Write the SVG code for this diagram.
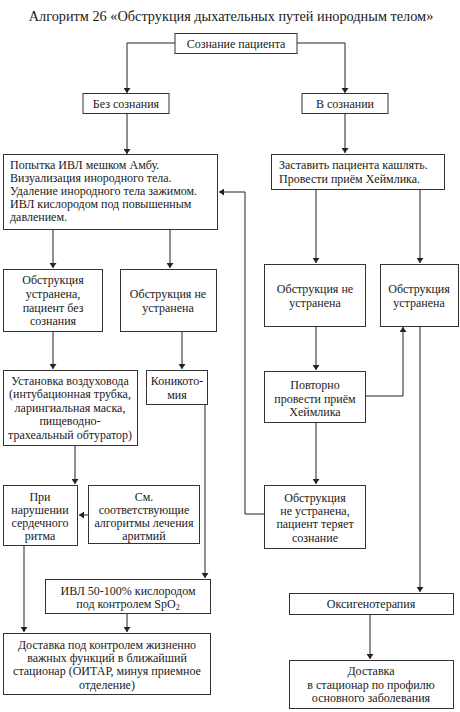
<svg xmlns="http://www.w3.org/2000/svg" width="460" height="712" viewBox="0 0 460 712">
<defs>
<marker id="ah" viewBox="0 0 10 10" refX="10" refY="5" markerWidth="5" markerHeight="7" markerUnits="userSpaceOnUse" orient="auto" preserveAspectRatio="none">
<path d="M0,0 L10,5 L0,10 Z" fill="#222"/>
</marker>
<style>
.b{fill:#fff;stroke:#333;stroke-width:1}
.c{text-anchor:middle}
.ln{fill:none;stroke:#222;stroke-width:1;marker-end:url(#ah)}
</style>
</defs>
<rect width="460" height="712" fill="#fff"/>
<g font-family="Liberation Serif, Times New Roman, serif" font-size="12" fill="#1a1a1a">
<text x="231" y="21" font-size="14.3" text-anchor="middle">Алгоритм 26 «Обструкция дыхательных путей инородным телом»</text>

<g id="connectors">
<path class="ln" d="M175,43 H127 V93"/>
<path class="ln" d="M297,43 H345 V93"/>
<path class="ln" d="M127,113 V154"/>
<path class="ln" d="M345,113 V153"/>
<path class="ln" d="M53,229 V268"/>
<path class="ln" d="M170,229 V268"/>
<path class="ln" d="M316,189 V263"/>
<path class="ln" d="M420,189 V263"/>
<path class="ln" d="M53,331 V369"/>
<path class="ln" d="M182,331 V369"/>
<path class="ln" d="M316,326 V370"/>
<path class="ln" d="M366,396 H403 V327"/>
<path class="ln" d="M316,422 V484"/>
<path class="ln" d="M264,514 H245 V192 H219"/>
<path class="ln" d="M75,445 V484"/>
<path class="ln" d="M88,515 H79"/>
<path class="ln" d="M205,404 V578"/>
<path class="ln" d="M24,545 V632"/>
<path class="ln" d="M127,613 V632"/>
<path class="ln" d="M420,326 V592"/>
<path class="ln" d="M370,614 V659"/>
</g>

<g id="n_consciousness">
<rect class="b" x="175" y="33.5" width="122" height="20"/>
<text class="c" x="236" y="47.5">Сознание пациента</text>
</g>
<g id="n_unconscious">
<rect class="b" x="83" y="93.5" width="86" height="20"/>
<text class="c" x="126" y="108">Без сознания</text>
</g>
<g id="n_conscious">
<rect class="b" x="302" y="93.5" width="86" height="20"/>
<text class="c" x="345" y="108">В сознании</text>
</g>
<g id="n_ambu">
<rect class="b" x="3.5" y="154.5" width="214" height="75"/>
<text x="10" y="169">Попытка ИВЛ мешком Амбу.</text>
<text x="10" y="182">Визуализация инородного тела.</text>
<text x="10" y="195">Удаление инородного тела зажимом.</text>
<text x="10" y="208">ИВЛ кислородом под повышенным</text>
<text x="10" y="221">давлением.</text>
</g>
<g id="n_cough">
<rect class="b" x="271.5" y="154.5" width="173" height="35"/>
<text x="279" y="169">Заставить пациента кашлять.</text>
<text x="279" y="183">Провести приём Хеймлика.</text>
</g>
<g id="n_left_resolved">
<rect class="b" x="3.5" y="269.5" width="99" height="62"/>
<text class="c" x="53" y="284">Обструкция</text>
<text class="c" x="53" y="298">устранена,</text>
<text class="c" x="53" y="312">пациент без</text>
<text class="c" x="53" y="325">сознания</text>
</g>
<g id="n_left_unresolved">
<rect class="b" x="120.5" y="269.5" width="96" height="62"/>
<text class="c" x="168" y="298">Обструкция не</text>
<text class="c" x="168" y="312">устранена</text>
</g>
<g id="n_right_unresolved">
<rect class="b" x="264.5" y="264.5" width="101" height="62"/>
<text class="c" x="315" y="293">Обструкция не</text>
<text class="c" x="315" y="307">устранена</text>
</g>
<g id="n_right_resolved">
<rect class="b" x="380.5" y="264.5" width="78" height="62"/>
<text class="c" x="419" y="293">Обструкция</text>
<text class="c" x="419" y="307">устранена</text>
</g>
<g id="n_airway">
<rect class="b" x="3.5" y="370.5" width="134" height="75"/>
<text class="c" x="70" y="385">Установка воздуховода</text>
<text class="c" x="70" y="398">(интубационная трубка,</text>
<text class="c" x="70" y="411.5">ларингиальная маска,</text>
<text class="c" x="70" y="425">пищеводно-</text>
<text class="c" x="70" y="439">трахеальный обтуратор)</text>
</g>
<g id="n_conicotomy">
<rect class="b" x="146.5" y="370.5" width="61" height="34"/>
<text class="c" x="177" y="385">Коникото-</text>
<text class="c" x="177" y="399">мия</text>
</g>
<g id="n_repeat">
<rect class="b" x="264.5" y="371.5" width="101" height="51"/>
<text class="c" x="315" y="389">Повторно</text>
<text class="c" x="315" y="402.5">провести приём</text>
<text class="c" x="315" y="416">Хеймлика</text>
</g>
<g id="n_rhythm">
<rect class="b" x="3.5" y="485.5" width="74" height="60"/>
<text class="c" x="40" y="501">При</text>
<text class="c" x="40" y="514">нарушении</text>
<text class="c" x="40" y="527">сердечного</text>
<text class="c" x="40" y="540">ритма</text>
</g>
<g id="n_see">
<rect class="b" x="88.5" y="485.5" width="111" height="58"/>
<text class="c" x="144" y="501">См.</text>
<text class="c" x="144" y="514">соответствующие</text>
<text class="c" x="144" y="527">алгоритмы лечения</text>
<text class="c" x="144" y="540">аритмий</text>
</g>
<g id="n_loses">
<rect class="b" x="264.5" y="485.5" width="101" height="63"/>
<text class="c" x="315" y="502">Обструкция</text>
<text class="c" x="315" y="515">не устранена,</text>
<text class="c" x="315" y="528">пациент теряет</text>
<text class="c" x="315" y="542">сознание</text>
</g>
<g id="n_ivl">
<rect class="b" x="45.5" y="579.5" width="165" height="34"/>
<text class="c" x="128" y="595">ИВЛ 50-100% кислородом</text>
<text class="c" x="128" y="608">под контролем SpO<tspan font-size="8" dy="2">2</tspan></text>
</g>
<g id="n_oxygen">
<rect class="b" x="289.5" y="593.5" width="164" height="21"/>
<text class="c" x="371" y="608">Оксигенотерапия</text>
</g>
<g id="n_delivery_left">
<rect class="b" x="3.5" y="633.5" width="207" height="61"/>
<text class="c" x="107" y="649">Доставка под контролем жизненно</text>
<text class="c" x="107" y="662">важных функций в ближайший</text>
<text class="c" x="107" y="675">стационар (ОИТАР, минуя приемное</text>
<text class="c" x="107" y="689">отделение)</text>
</g>
<g id="n_delivery_right">
<rect class="b" x="289.5" y="660.5" width="164" height="48"/>
<text class="c" x="371" y="675">Доставка</text>
<text class="c" x="371" y="689">в стационар по профилю</text>
<text class="c" x="371" y="702">основного заболевания</text>
</g>
</g>
</svg>
